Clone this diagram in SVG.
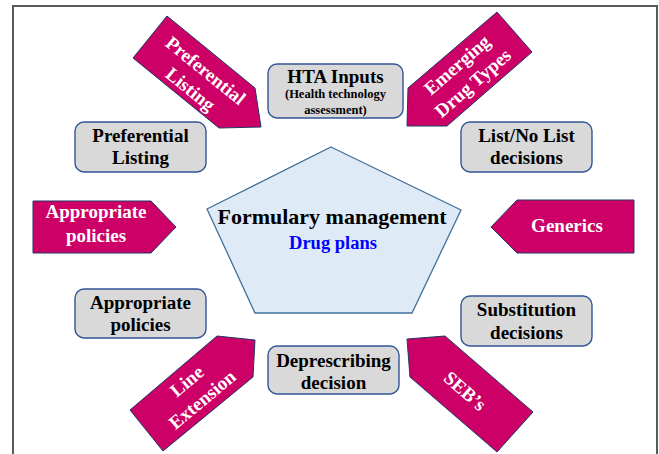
<svg xmlns="http://www.w3.org/2000/svg" width="659" height="454" viewBox="0 0 659 454">
<style>
  text { font-family: "Liberation Serif", "Times New Roman", serif; font-weight: bold; text-anchor: middle; }
  .frame { stroke: #5a5a5a; stroke-width: 2; fill: none; }
  .box { fill: #d9d9d9; stroke: #2f5597; stroke-width: 1.4; }
  .bt { font-size: 19px; fill: #000; }
  .st { font-size: 12.5px; fill: #000; }
  .arr { fill: #cc0066; stroke: #203864; stroke-width: 1; }
  .at { font-size: 19px; fill: #fff; }
  .pent { fill: #deebf7; stroke: #41719c; stroke-width: 1.3; }
</style>
<rect width="659" height="454" fill="#fff"/>
<g id="frame">
  <polyline class="frame" points="13,454 13,6 657,6 657,454"/>
</g>
<g id="center">
  <polygon class="pent" points="331,147 461,210 412,313 255,313 207,209"/>
  <text x="332" y="223.5" style="font-size:22px" fill="#000">Formulary management</text>
  <text x="333" y="249" style="font-size:18.5px" fill="#0000ff">Drug plans</text>
</g>
<g id="hta">
  <rect class="box" x="268" y="64" width="135" height="54" rx="9"/>
  <text class="bt" x="335.5" y="82.5">HTA Inputs</text>
  <text class="st" x="335.5" y="98">(Health technology</text>
  <text class="st" x="335.5" y="113.5">assessment)</text>
</g>
<g id="pref-box">
  <rect class="box" x="75" y="122" width="131" height="50" rx="9"/>
  <text class="bt" x="140.5" y="142">Preferential</text>
  <text class="bt" x="140.5" y="164">Listing</text>
</g>
<g id="list-box">
  <rect class="box" x="461" y="122" width="131" height="50" rx="9"/>
  <text class="bt" x="526.5" y="142">List/No List</text>
  <text class="bt" x="526.5" y="164">decisions</text>
</g>
<g id="subst-box">
  <rect class="box" x="461" y="296" width="131" height="50" rx="9"/>
  <text class="bt" x="526.5" y="316">Substitution</text>
  <text class="bt" x="526.5" y="338.5">decisions</text>
</g>
<g id="approp-box">
  <rect class="box" x="75" y="289" width="131" height="49" rx="9"/>
  <text class="bt" x="140.5" y="308.5">Appropriate</text>
  <text class="bt" x="140.5" y="330.5">policies</text>
</g>
<g id="depres-box">
  <rect class="box" x="268" y="346" width="131" height="48" rx="9"/>
  <text class="bt" x="333.5" y="366.5">Deprescribing</text>
  <text class="bt" x="333.5" y="388.5">decision</text>
</g>
<g id="approp-arrow">
  <polygon class="arr" points="33,201 151,201 176,227 151,253 33,253"/>
  <text class="at" x="96" y="218">Appropriate</text>
  <text class="at" x="96" y="241.5">policies</text>
</g>
<g id="generics-arrow">
  <polygon class="arr" points="491,227 517,200 634,200 634,253 517,253"/>
  <text class="at" x="567" y="232">Generics</text>
</g>
<g id="pref-arrow">
  <polygon class="arr" points="133,58 167,16 255,88 261,127 219,128"/>
  <g transform="translate(198,80) rotate(39)">
    <text class="at" x="0" y="-5.7">Preferential</text>
    <text class="at" x="0" y="18.3">Listing</text>
  </g>
</g>
<g id="emerging-arrow">
  <polygon class="arr" points="407,126 408,88 497,12 532,52 447,126"/>
  <g transform="translate(465,74) rotate(-41)">
    <text class="at" x="0" y="-5.7">Emerging</text>
    <text class="at" x="0" y="18.3">Drug Types</text>
  </g>
</g>
<g id="line-ext-arrow">
  <polygon class="arr" points="217,336 255,340 253,377 163,451 130,410"/>
  <g transform="translate(194.6,390.4) rotate(-40)">
    <text class="at" x="0" y="-5.7">Line</text>
    <text class="at" x="0" y="18.3">Extension</text>
  </g>
</g>
<g id="seb-arrow">
  <polygon class="arr" points="407,339 445,336 533,412 497,452 410,377"/>
  <g transform="translate(465,391) rotate(41)">
    <text class="at" x="0" y="6.3">SEB’s</text>
  </g>
</g>
<g id="connectors"/>
</svg>
